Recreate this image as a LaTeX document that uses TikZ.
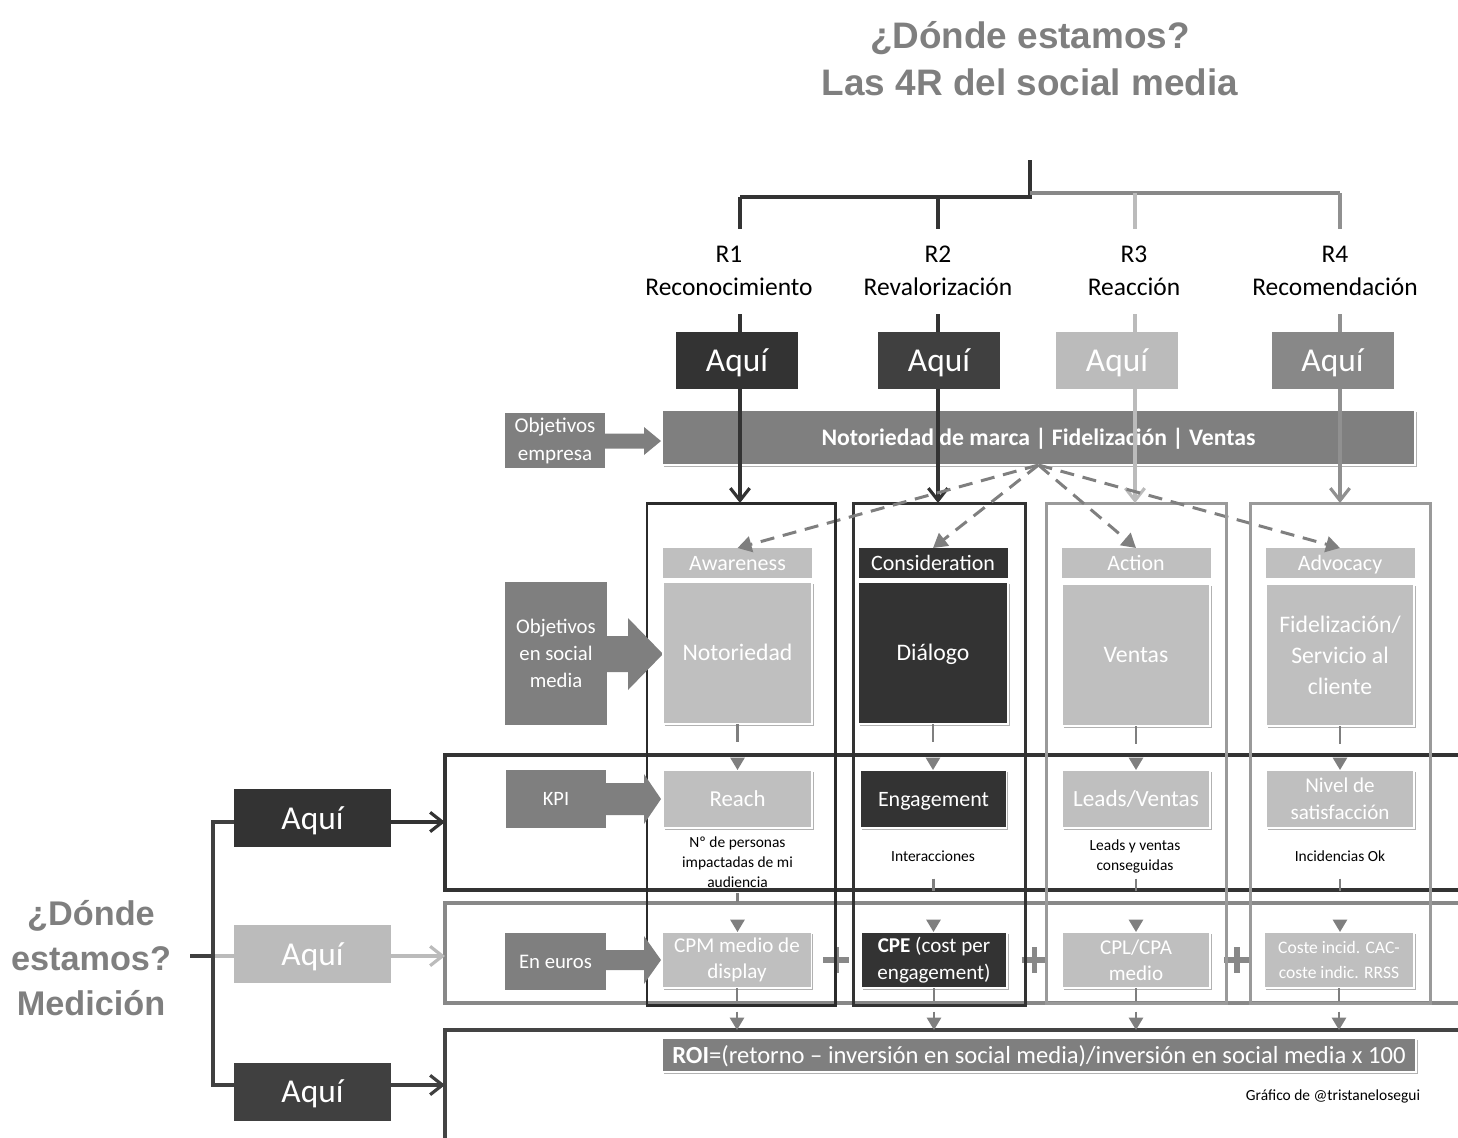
\documentclass[tikz,border=0pt]{standalone}
\usepackage{fontspec}
\setmainfont{Carlito}
\newfontfamily\arialf{Liberation Sans}
\usetikzlibrary{arrows.meta,shadows,calc}
\definecolor{k2b}{HTML}{2B2B2B}
\definecolor{k33}{HTML}{333333}
\definecolor{k40}{HTML}{404040}
\definecolor{k44}{HTML}{444444}
\definecolor{c80}{HTML}{7F7F7F}
\definecolor{c88}{HTML}{888888}
\definecolor{c90}{HTML}{909090}
\definecolor{c99}{HTML}{9A9A9A}
\definecolor{cbb}{HTML}{BBBBBB}
\definecolor{cbf}{HTML}{BFBFBF}
\newcommand\fs[2]{\fontsize{#1}{#2}\selectfont}
\newcommand\barrow[6]{\fill[c80] (#1,{#3-#4}) -- ({#2-#6},{#3-#4}) -- ({#2-#6},{#3-#5}) -- (#2,#3) -- ({#2-#6},{#3+#5}) -- ({#2-#6},{#3+#4}) -- (#1,{#3+#4}) -- cycle;}
\tikzset{
 sz/.style 2 args={minimum width=#1*0.02cm, minimum height=#2*0.02cm, inner sep=0pt, outer sep=0pt},
 one/.style={text height=#1*0.72pt, text depth=#1*0.06pt},
 aqui/.style={text=white, font=\fs{19}{22}, sz={122}{57}, one=19},
 rlab/.style={fill=white, align=center, font=\fs{14.5}{19}, sz={170}{85}},
 objbox/.style={fill=c80, text=white, align=center},
 hdr/.style={fill=cbf, text=white, font=\fs{12.5}{15}, sz={149}{30}, one=12.5},
 lbox/.style={fill=cbf, text=white, draw=white, line width=1pt, align=center,
   drop shadow={shadow xshift=1pt, shadow yshift=-1.2pt, opacity=0.3, fill=black}},
 dbox/.style={lbox, fill=k33},
 colbox/.style={draw, line width=1.7pt},
 rowbox/.style={draw, line width=2.3pt},
 rarrow/.style={line width=1.8pt, -{Straight Barb[length=7pt,width=11pt]}},
 dasharr/.style={draw=c80, line width=1.7pt, dash pattern=on 8pt off 5pt, -{Triangle[length=8pt,width=9pt]}},
 tick/.style={draw=c80, line width=1.3pt, -{Triangle[length=7pt,width=8pt]}},
 plus/.style={draw=c88, line width=3pt},
 desc/.style={align=center, font=\fs{8.8}{11.4}, sz={150}{44}},
}
\begin{document}
\begin{tikzpicture}[x=0.02cm,y=-0.02cm]
\clip (0,0) rectangle (1458,1137);
% title
\node[font=\arialf\bfseries\fs{21}{26.7}, text=c80, align=center] (title) at (1030,58.5) {¿Dónde estamos?\\Las 4R del social media};
% rows
\node[rowbox, draw=k33, sz={1100}{135}] (kpirow) at (995,822.5) {};
\node[rowbox, draw=c88, sz={1100}{100}] (eurrow) at (995,953) {};
\node[rowbox, draw=k44, sz={1100}{200}] (roirow) at (995,1130) {};
% columns
\node[colbox, draw=k2b, sz={188}{502}] (col1) at (741,754) {};
\node[colbox, draw=k33, sz={172}{502}] (col2) at (939,754) {};
\node[colbox, draw=c99, sz={180}{500}] (col3) at (1136,753) {};
\node[colbox, draw=c99, sz={180}{500}] (col4) at (1340,753) {};
% banner and objective boxes
\node[lbox, fill=c80, sz={753}{55}, font=\bfseries\fs{13.5}{16}, one=13.5] (banner) at (1038.5,437.5) {Notoriedad de marca | Fidelización | Ventas};
\node[objbox, sz={100}{55}, font=\fs{12}{16}] (oe) at (555,440.5) {Objetivos\\empresa};
\node[objbox, sz={102}{143}, font=\fs{11.8}{15.4}] (osm) at (556,653.5) {Objetivos\\en social\\media};
\node[objbox, sz={100}{58}, font=\fs{11.6}{14}, one=11.6] (okpi) at (556,799) {KPI};
\node[objbox, sz={101}{57}, font=\fs{11.8}{14}, one=11.8] (oeur) at (555.5,961.5) {En euros};
\barrow{605}{661}{441}{7.5}{14}{17}
\barrow{607}{663}{654}{18}{36}{35}
\barrow{606}{661}{799}{16}{25}{17}
\barrow{606}{661}{960}{10}{24}{17}
% top tree
\coordinate (top) at (1030,160);
\coordinate (jd) at (1030,197);
\coordinate (jg) at (1030,193);
\coordinate (b1) at (740,197);
\coordinate (b2) at (938,197);
\coordinate (b3) at (1135,193);
\coordinate (b4) at (1340,193);
\draw[k33, line width=2pt] (top) -- (jd) -- (b1);
\draw[c88, line width=2pt] (jg) -- (b4);
\draw[rarrow, k33] (b1) -- (b1 |- col1.north);
\draw[rarrow, k33] (b2) -- (b2 |- col2.north);
\draw[rarrow, cbb] (b3) -- (b3 |- col3.north);
\draw[rarrow, c90] (b4) -- (b4 |- col4.north);
\node[rlab] (l1) at (729,271) {R1\\Reconocimiento};
\node[rlab] (l2) at (938,271) {R2\\Revalorización};
\node[rlab] (l3) at (1134,271) {R3\\Reacción};
\node[rlab] (l4) at (1335,271) {R4\\Recomendación};
\node[aqui, fill=k33] (a1) at (737,360.5) {Aquí};
\node[aqui, fill=k40] (a2) at (939,360.5) {Aquí};
\node[aqui, fill=cbb] (a3) at (1117,360.5) {Aquí};
\node[aqui, fill=c88] (a4) at (1332.5,360.5) {Aquí};
% headers
\node[hdr] (h1) at (737.5,563) {Awareness};
\node[hdr, fill=k33] (h2) at (933,563) {Consideration};
\node[hdr] (h3) at (1136,563) {Action};
\node[hdr] (h4) at (1340,563) {Advocacy};
% main boxes
\node[lbox, sz={149}{142}, font=\fs{13.5}{17.6}, one=13.5] (m1) at (737.5,653) {Notoriedad};
\node[dbox, sz={150}{142}, font=\fs{13.5}{17.6}, one=13.5] (m2) at (933,653) {Diálogo};
\node[lbox, sz={148}{142}, font=\fs{13.5}{17.6}, one=13.5] (m3) at (1136,655) {Ventas};
\node[lbox, sz={148}{142}, font=\fs{13.5}{17.6}] (m4) at (1340,655) {Fidelización/\\Servicio al\\cliente};
% KPI boxes
\node[lbox, sz={149}{58}, font=\fs{13}{15}, one=13] (k1) at (737.5,799) {Reach};
\node[dbox, sz={146}{58}, font=\fs{12.5}{15}, one=12.5] (k2) at (933.5,799) {Engagement};
\node[lbox, sz={148}{58}, font=\fs{13.2}{15}, one=13.2] (k3) at (1136,799) {Leads/Ventas};
\node[lbox, sz={148}{58}, font=\fs{12}{15.4}] (k4) at (1340,799) {Nivel de\\satisfacción};
\node[desc] (d1) at (737.5,862) {Nº de personas\\impactadas de mi\\audiencia};
\node[desc] (d2) at (933,856) {Interacciones};
\node[desc] (d3) at (1135,856) {Leads y ventas\\conseguidas};
\node[desc] (d4) at (1340,856) {Incidencias Ok};
% euro boxes
\node[lbox, sz={149}{56}, font=\fs{12}{15}] (e1) at (737,960) {CPM medio de\\display};
\node[dbox, sz={146}{56}, font=\fs{12}{15}] (e2) at (934,960) {\textbf{CPE} (cost per\\engagement)};
\node[lbox, sz={148}{56}, font=\fs{12}{15}] (e3) at (1136,960) {CPL/CPA\\medio};
\node[lbox, sz={150}{56}, font=\fs{10}{14}] (e4) at (1339,960) {Coste incid. CAC-\\coste indic. RRSS};
% ROI
\node[lbox, fill=c80, sz={754}{34}, font=\fs{14}{16}, one=14] (roi) at (1039,1055) {\textbf{ROI}=(retorno – inversión en social media)/inversión en social media x 100};
\node[font=\fs{8.8}{11}] (credit) at (1333,1096) {Gráfico de @tristanelosegui};
% dashed arrows
\draw[dasharr] (banner.south) -- (h1.north);
\draw[dasharr] (banner.south) -- (h2.north);
\draw[dasharr] (banner.south) -- (h3.north);
\draw[dasharr] (banner.south) -- (h4.north);
% ticks
\foreach \i in {1,2,3,4}{
 \draw[tick, dash pattern=on 10pt off 100pt] (m\i.south) -- (m\i.south |- k\i.north);
 \draw[tick, dash pattern=on 7.5pt off 6pt on 20pt off 100pt] (e\i.south) -- (e\i.south |- roirow.north);
}
\draw[tick, dash pattern=on 5pt off 100pt, dash phase=68pt] (k1.south) -- (k1.south |- e1.north);
\foreach \i in {2,3,4}{
 \draw[tick, dash pattern=on 6.8pt off 100pt, dash phase=78pt] (k\i.south) -- (k\i.south |- e\i.north);
}
% plus signs
\foreach \a/\b in {e1/e2,e2/e3,e3/e4}{
 \draw[plus] ($(\a.east)!0.5!(\b.west)$) +(0,-13) -- +(0,13) +(-13,0) -- +(13,0);
}
\draw[colbox, draw=k2b] (col1.north east) -- (col1.south east);
\draw[colbox, draw=k33] (col2.north east) -- (col2.south east);
\draw[colbox, draw=c99] (col3.north west) -- (col3.south west);
\draw[colbox, draw=c99] (col3.north east) -- (col3.south east);
\draw[colbox, draw=c99] (col4.north west) -- (col4.south west);
% left side
\node[font=\arialf\bfseries\fs{19.5}{25.6}, text=c80, align=center] (med) at (91,958) {¿Dónde\\estamos?\\Medición};
\node[aqui, fill=k33, sz={157}{58}] (la) at (312.5,818) {Aquí};
\node[aqui, fill=cbb, sz={157}{58}] (lb) at (312.5,954) {Aquí};
\node[aqui, fill=k40, sz={157}{58}] (lc) at (312.5,1091.5) {Aquí};
\coordinate (ta) at (213,822);
\coordinate (tb) at (213,956);
\coordinate (tc) at (213,1085);
\coordinate (ts) at (190,956);
\draw[cbb, line width=2pt] (tb) -- (lb.west |- tb);
\draw[k40, line width=2pt] (ts) -- (tb);
\draw[k40, line width=2pt] (la.west |- ta) -- (ta) -- (tc) -- (lc.west |- tc);
\draw[rarrow, k33] (la.east |- ta) -- (kpirow.west |- ta);
\draw[rarrow, cbb] (lb.east |- tb) -- (eurrow.west |- tb);
\draw[rarrow, k40] (lc.east |- tc) -- (roirow.west |- tc);
\end{tikzpicture}
\end{document}
